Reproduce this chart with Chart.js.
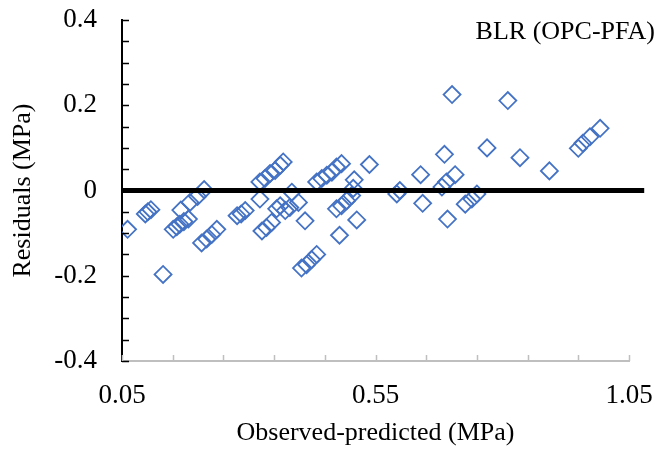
<!DOCTYPE html>
<html>
<head>
<meta charset="utf-8">
<title>BLR (OPC-PFA) residuals</title>
<script src="https://cdn.jsdelivr.net/npm/chart.js@4.4.1/dist/chart.umd.min.js"></script>
<style>
    html, body { margin: 0; padding: 0; background: #ffffff; }
    #wrap { width: 663px; height: 449px; }
</style>
</head>
<body>
<div id="wrap"><canvas id="chart"></canvas></div>
<script>
// Observed-predicted (MPa), one entry per specimen
const observedPredicted = [
    0.061, 0.096, 0.101, 0.107, 0.131, 0.151, 0.158, 0.164, 0.172, 0.181,
    0.166, 0.184, 0.199, 0.212, 0.207, 0.217, 0.227, 0.237, 0.277, 0.285,
    0.293, 0.322, 0.332, 0.342, 0.352, 0.362, 0.368, 0.322, 0.326, 0.335,
    0.345, 0.411, 0.398, 0.385, 0.362, 0.355, 0.372, 0.381, 0.404, 0.414,
    0.424, 0.434, 0.434, 0.444, 0.454, 0.464, 0.473, 0.483, 0.538, 0.508,
    0.473, 0.483, 0.493, 0.503, 0.513, 0.479, 0.598, 0.592, 0.639, 0.643,
    0.686, 0.701, 0.707, 0.690, 0.681, 0.692, 0.727, 0.740, 0.750, 0.770,
    0.811, 0.835, 0.893, 0.950, 0.959, 0.973, 0.993, 0.506
];

// Residuals (MPa), same order
const residuals = [
    -0.091, -0.055, -0.050, -0.045, -0.197, -0.091, -0.085, -0.079, -0.073, -0.067,
    -0.046, -0.028, -0.014, 0.002, -0.123, -0.114, -0.103, -0.091, -0.059, -0.055,
    -0.047, 0.020, 0.028, 0.040, 0.047, 0.059, 0.067, -0.020, -0.095, -0.087,
    -0.075, -0.071, -0.028, -0.004, -0.036, -0.043, -0.047, -0.040, -0.182, -0.174,
    -0.162, -0.150, 0.020, 0.028, 0.036, 0.043, 0.055, 0.063, 0.061, 0.025,
    -0.043, -0.036, -0.024, -0.012, -0.069, -0.105, 0.000, -0.008, 0.037, -0.030,
    0.085, 0.225, 0.037, 0.020, 0.008, -0.067, -0.032, -0.020, -0.008, 0.100,
    0.211, 0.077, 0.046, 0.099, 0.111, 0.126, 0.146, 0.005
];

// zero residual reference line
const zeroLineX = [0.05, 1.08];
const zeroLineY = [0, 0];

// labelled ticks (every 5th x tick, every 4th y tick)
const xTickLabels = ['0.05', '0.55', '1.05'];
const yTickLabels = ['-0.4', '-0.2', '0', '0.2', '0.4'];

const chartLabel = 'BLR (OPC-PFA)';

const SERIF = '"Liberation Serif", "Times New Roman", serif';

/**
 * Short tick marks drawn inward from the axis lines, plus the corner label
 */
const innerTicks = {
    id: 'innerTicks',
    afterDraw(chart) {
        const ctx = chart.ctx;
        const area = chart.chartArea;
        const xs = chart.scales.x;
        const ys = chart.scales.y;
        ctx.save();
        ctx.lineWidth = 1.5;

        ctx.strokeStyle = '#000000';
        ys.ticks.forEach(function(t) {
            const py = Math.round(ys.getPixelForValue(t.value)) + 0.5;
            ctx.beginPath();
            ctx.moveTo(area.left, py);
            ctx.lineTo(area.left + 7, py);
            ctx.stroke();
        });

        ctx.strokeStyle = '#bfbfbf';
        xs.ticks.forEach(function(t) {
            const px = Math.round(xs.getPixelForValue(t.value)) + 0.5;
            ctx.beginPath();
            ctx.moveTo(px, area.bottom);
            ctx.lineTo(px, area.bottom - 6);
            ctx.stroke();
        });

        ctx.fillStyle = '#000000';
        ctx.font = '26px ' + SERIF;
        ctx.textAlign = 'right';
        ctx.textBaseline = 'middle';
        ctx.fillText(chartLabel, 655, 32);
        ctx.restore();
    }
};

const points = observedPredicted.map((x, i) => ({ x: x, y: residuals[i] }));
const zeroLine = zeroLineX.map((x, i) => ({ x: x, y: zeroLineY[i] }));

new Chart(document.getElementById('chart'), {
    type: 'scatter',
    data: {
        datasets: [
            {
                label: 'Zero',
                type: 'line',
                data: zeroLine,
                borderColor: '#000000',
                borderWidth: 5,
                pointRadius: 0,
                clip: false,
                order: 0
            },
            {
                label: 'Residuals',
                data: points,
                pointStyle: 'rectRot',
                pointRadius: 8.5,
                pointHoverRadius: 8.5,
                borderColor: '#4472c4',
                backgroundColor: 'rgba(0,0,0,0)',
                borderWidth: 1.8,
                order: 1
            }
        ]
    },
    plugins: [innerTicks],
    options: {
        responsive: true,
        maintainAspectRatio: false,
        animation: false,
        layout: { padding: { top: 20, right: 34, left: 0, bottom: 0 } },
        plugins: {
            legend: { display: false },
            tooltip: { enabled: false }
        },
        scales: {
            x: {
                type: 'linear',
                min: 0.05,
                max: 1.05,
                afterFit: function(scale) {
                    scale.height = 88;
                    scale.paddingLeft = 0;
                    scale.paddingRight = 0;
                },
                grid: { display: false, drawTicks: false },
                border: { display: true, color: '#bfbfbf', width: 2 },
                ticks: {
                    stepSize: 0.1,
                    autoSkip: false,
                    maxRotation: 0,
                    padding: 19,
                    color: '#000000',
                    font: { family: SERIF, size: 27 },
                    callback: (v, i) => (i % 5 === 0 ? xTickLabels[i / 5] : '')
                },
                title: {
                    display: true,
                    text: 'Observed-predicted (MPa)',
                    color: '#000000',
                    font: { family: SERIF, size: 26 },
                    padding: { top: 0, bottom: 0 }
                }
            },
            y: {
                type: 'linear',
                min: -0.4,
                max: 0.4,
                afterFit: function(scale) {
                    scale.width = 122;
                    scale.paddingTop = 0;
                    scale.paddingBottom = 0;
                },
                grid: { display: false, drawTicks: false },
                border: { display: true, color: '#000000', width: 2 },
                ticks: {
                    stepSize: 0.05,
                    autoSkip: false,
                    padding: 25,
                    color: '#000000',
                    font: { family: SERIF, size: 27 },
                    callback: (v, i) => (i % 4 === 0 ? yTickLabels[i / 4] : '')
                },
                title: {
                    display: true,
                    text: 'Residuals (MPa)',
                    color: '#000000',
                    font: { family: SERIF, size: 26 },
                    padding: { top: 8, bottom: 0 }
                }
            }
        }
    }
});
</script>
</body>
</html>
